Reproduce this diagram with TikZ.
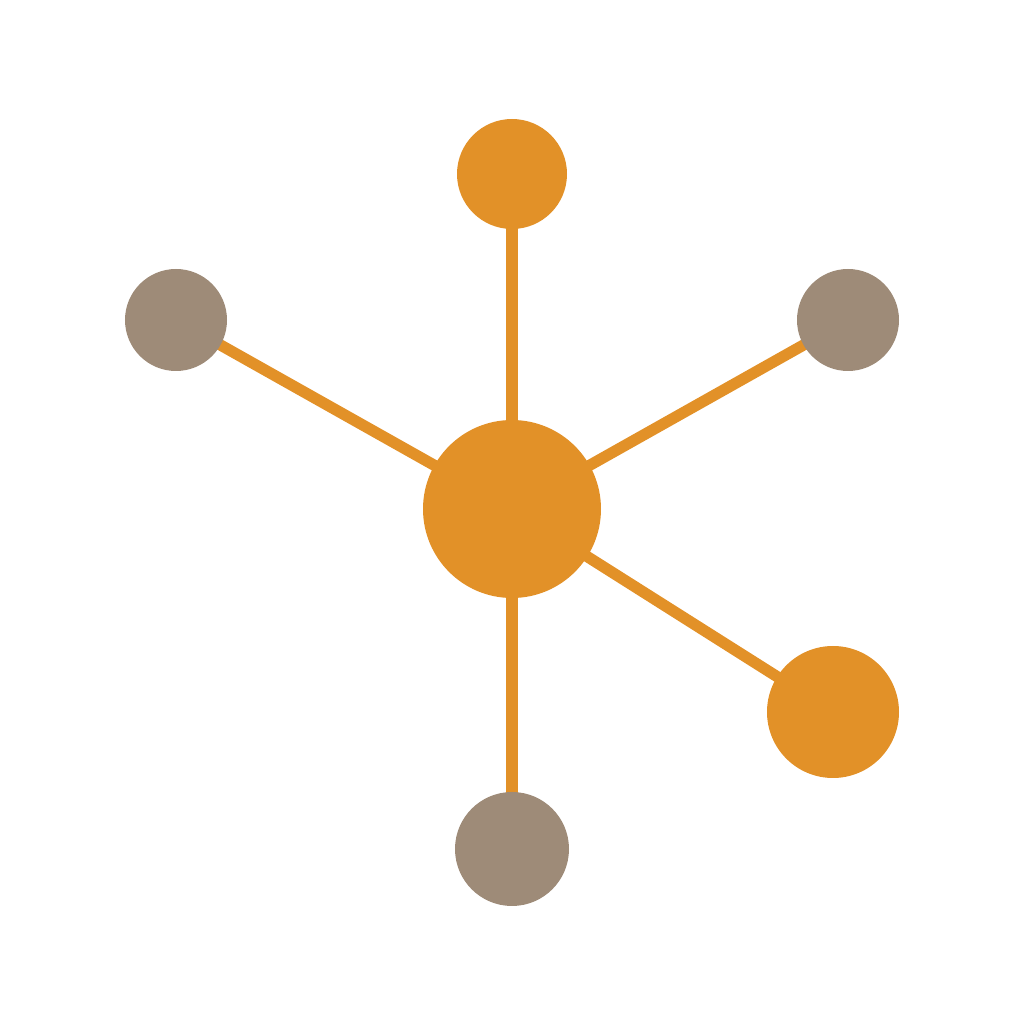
\documentclass[tikz,border=0pt]{standalone}
\usetikzlibrary{backgrounds}
\definecolor{hubOrange}{HTML}{E29128}
\definecolor{leafGray}{HTML}{9E8B78}
\tikzset{
  orangeDot/.style={circle, fill=hubOrange, inner sep=0pt},
  grayDot/.style={circle, fill=leafGray, inner sep=0pt},
  spoke/.style={draw=hubOrange, line width=3.2pt}
}
\begin{document}
\begin{tikzpicture}
		\useasboundingbox (0,0) rectangle (10.24,10.24);
		% Mitte
		\node[orangeDot, minimum size=1.78cm] (hub) at (5.12,5.15) {};
		% Knoten außen
		\node[orangeDot, minimum size=1.10cm] (top) at (5.12,8.50) {};
		\node[grayDot, minimum size=1.02cm] (left) at (1.76,7.04) {};
		\node[grayDot, minimum size=1.02cm] (right) at (8.48,7.04) {};
		\node[orangeDot, minimum size=1.32cm] (lowright) at (8.33,3.12) {};
		\node[grayDot, minimum size=1.14cm] (bottom) at (5.12,1.75) {};
		% Speichen
		\begin{scope}[on background layer]
		\foreach \n in {top,left,right,lowright,bottom} {
			\draw[spoke] (hub.center) -- (\n.center);
		}
		\end{scope}
\end{tikzpicture}
\end{document}
